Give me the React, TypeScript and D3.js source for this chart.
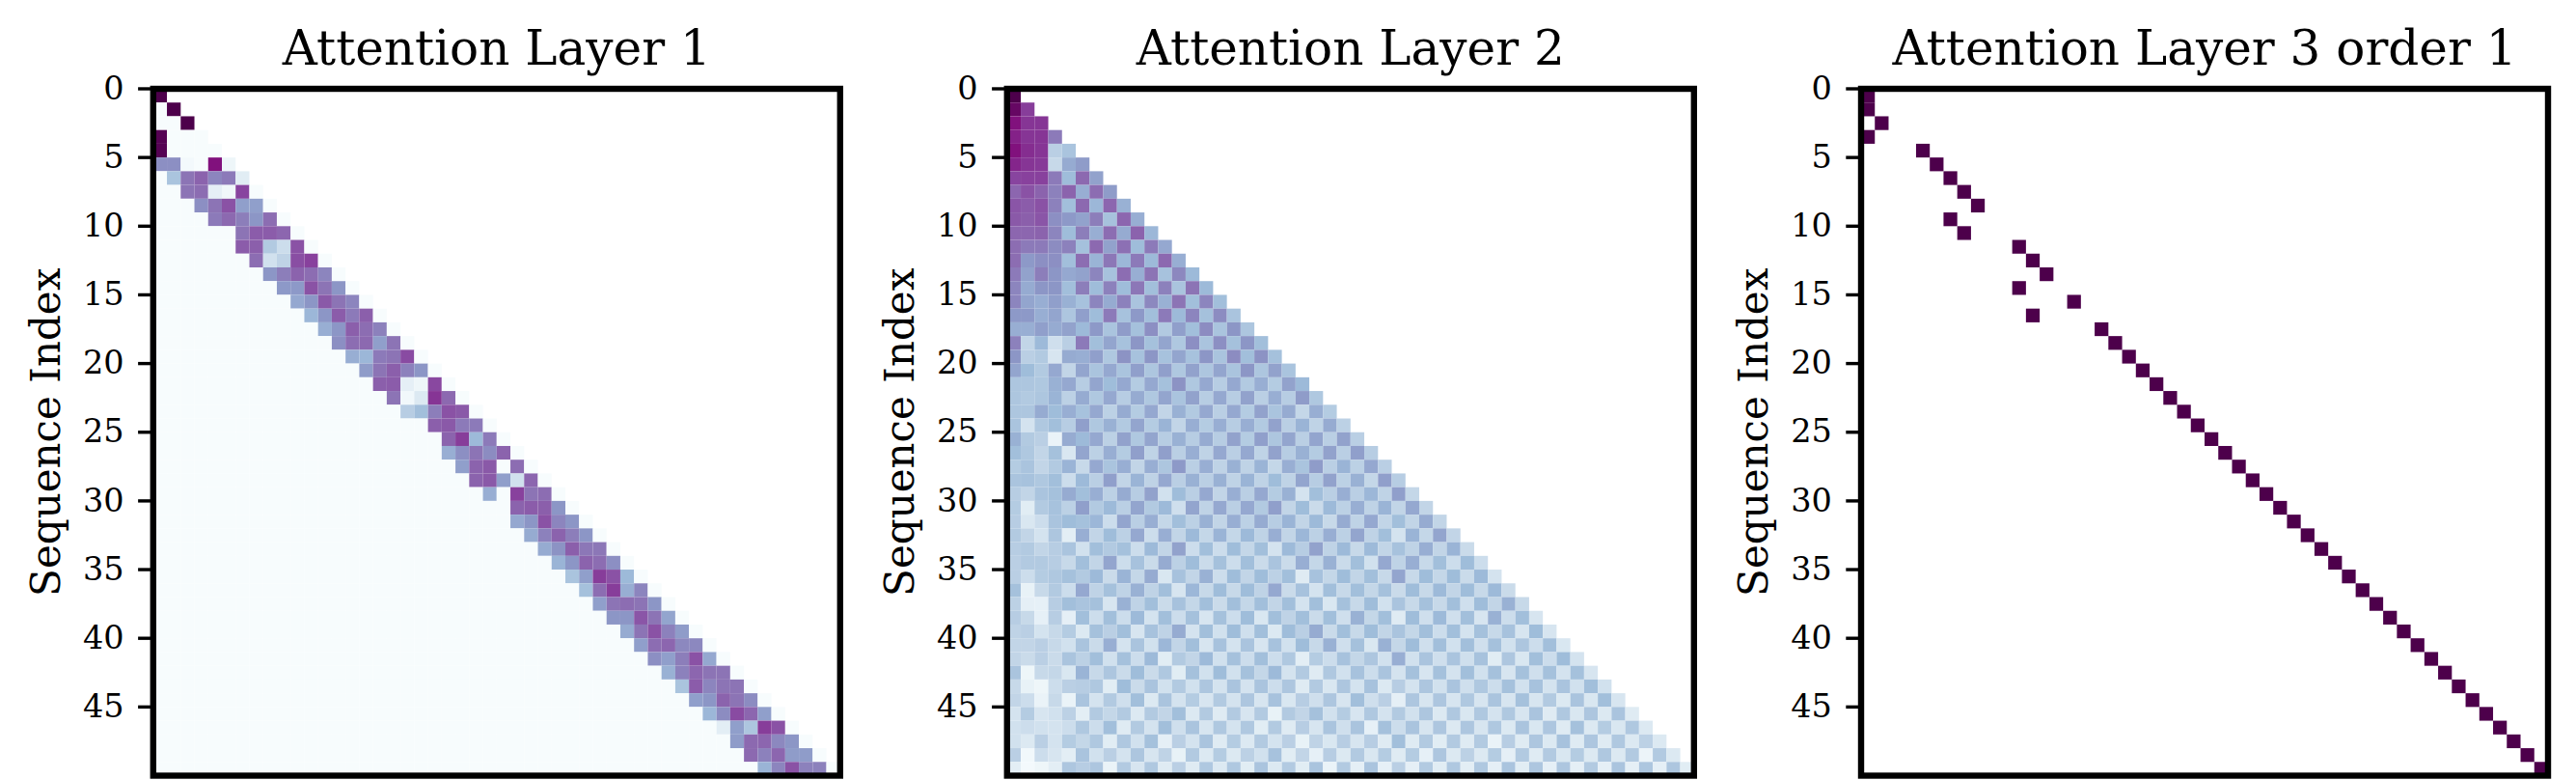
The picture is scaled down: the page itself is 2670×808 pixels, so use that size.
import { useEffect, useRef } from 'react';
import * as d3 from 'd3';

const WIDTH = 2670;
const HEIGHT = 808;
const PANEL_LEFT = [158.8, 1043.8, 1929];
const PANEL_TOP = 92;
const PANEL_W = 712;
const PANEL_H = 711.5;
const N = 50;

const titles = ['Attention Layer 1', 'Attention Layer 2', 'Attention Layer 3 order 1'];
const yLabel = 'Sequence Index';
const yTicks = [0, 5, 10, 15, 20, 25, 30, 35, 40, 45];

// layer 1: first non-zero column of each row, then the band of values (0-100)
const layer1Start = [
  0, 1, 2, 0, 0, 0, 1, 2, 3, 4, 6, 6, 7, 8, 9, 10, 11, 12, 13, 14, 15, 16, 17, 18, 20,
  21, 21, 22, 23, 24, 26, 26, 27, 28, 29, 30, 31, 32, 33, 34, 35, 36, 37, 38, 39, 40, 41, 42, 43, 44,
];
const layer1Band = [
  [100], [100], [100], [98], [98],
  [52, 52, 2, 0, 87, 5],
  [33, 60, 65, 55, 58, 12],
  [60, 62, 10, 4, 74],
  [52, 60, 70, 47, 47],
  [58, 63, 57, 50, 62],
  [60, 67, 67, 64],
  [67, 66, 30, 20, 70],
  [62, 18, 25, 71, 75],
  [50, 57, 65, 62, 55],
  [49, 49, 70, 60, 50],
  [44, 50, 68, 60, 55],
  [39, 50, 67, 58, 66],
  [42, 50, 66, 62, 56],
  [52, 62, 63, 47, 60],
  [42, 39, 58, 60, 72],
  [48, 60, 66, 56, 50],
  [66, 67, 10, 5, 73],
  [60, 3, 14, 78, 63],
  [28, 36, 57, 70, 68],
  [66, 68, 58, 58],
  [65, 76, 38, 58],
  [42, 52, 60, 53, 65],
  [47, 65, 68, 0, 62],
  [65, 68, 47, 18, 64],
  [42, 0, 75, 60, 62],
  [65, 67, 66, 50],
  [44, 50, 70, 55, 50],
  [43, 56, 65, 57, 50],
  [43, 51, 66, 59, 59],
  [40, 50, 65, 62, 52],
  [33, 47, 76, 70, 38],
  [35, 62, 76, 42, 55],
  [47, 60, 62, 60, 50],
  [50, 50, 69, 60, 45],
  [43, 60, 70, 56, 48],
  [47, 62, 64, 54, 54],
  [52, 47, 57, 70, 44],
  [41, 56, 64, 60, 60],
  [33, 67, 55, 60, 60],
  [47, 50, 65, 60, 53],
  [39, 53, 72, 64, 47],
  [11, 47, 32, 76, 70],
  [48, 63, 64, 54, 50],
  [63, 56, 64, 48, 48],
  [40, 55, 70, 56, 56],
];

// layer 2: lower triangle, row i holds columns 0..i (0-100)
const layer2Rows = [
  [100],
  [94, 76],
  [87, 78, 78],
  [83, 78, 78, 58],
  [87, 80, 78, 27, 33],
  [82, 78, 77, 22, 43, 48],
  [74, 75, 75, 58, 37, 63, 46],
  [64, 70, 65, 56, 65, 42, 62, 48],
  [69, 67, 70, 56, 36, 63, 39, 64, 41],
  [68, 66, 69, 52, 49, 46, 57, 34, 64, 42],
  [64, 64, 65, 55, 37, 57, 42, 62, 43, 65, 39],
  [62, 58, 58, 53, 56, 35, 63, 46, 61, 37, 58, 44],
  [62, 49, 52, 52, 36, 62, 40, 59, 39, 58, 38, 63, 42],
  [58, 46, 57, 50, 44, 46, 55, 34, 62, 42, 60, 34, 54, 38],
  [55, 43, 50, 50, 36, 57, 37, 56, 37, 59, 36, 56, 33, 60, 38],
  [55, 45, 42, 47, 41, 34, 55, 43, 56, 33, 54, 41, 60, 36, 55, 36],
  [49, 49, 42, 45, 32, 47, 37, 58, 34, 49, 36, 58, 38, 55, 35, 53, 33],
  [42, 42, 47, 43, 46, 38, 49, 33, 48, 35, 52, 30, 47, 36, 53, 33, 50, 32],
  [56, 24, 38, 19, 27, 58, 36, 45, 34, 50, 35, 45, 31, 52, 33, 52, 35, 50, 36],
  [50, 27, 30, 16, 43, 42, 47, 31, 51, 34, 50, 34, 45, 34, 50, 33, 53, 36, 51, 35],
  [45, 37, 30, 44, 24, 45, 33, 44, 33, 47, 32, 47, 31, 46, 32, 45, 33, 50, 32, 46, 33],
  [32, 32, 31, 41, 44, 28, 45, 37, 44, 29, 44, 35, 51, 31, 44, 28, 44, 30, 42, 29, 46, 38],
  [32, 30, 32, 40, 26, 43, 31, 44, 28, 43, 31, 45, 33, 46, 28, 44, 28, 46, 27, 42, 28, 48, 31],
  [32, 32, 43, 37, 42, 34, 44, 26, 43, 29, 44, 24, 41, 30, 44, 27, 44, 29, 46, 33, 43, 23, 42, 29],
  [33, 17, 31, 36, 28, 47, 31, 41, 30, 45, 29, 40, 24, 42, 29, 42, 28, 42, 30, 46, 27, 40, 25, 43, 26],
  [41, 30, 27, 7, 43, 38, 44, 26, 46, 31, 45, 28, 41, 28, 43, 28, 46, 29, 47, 32, 45, 27, 45, 27, 46, 27],
  [36, 31, 24, 35, 15, 45, 26, 42, 29, 47, 25, 47, 27, 42, 25, 44, 27, 44, 25, 46, 28, 41, 29, 46, 27, 47, 28],
  [29, 33, 24, 30, 40, 22, 44, 33, 42, 24, 42, 32, 49, 27, 42, 25, 41, 25, 40, 23, 42, 33, 48, 27, 40, 26, 44, 27],
  [33, 34, 31, 36, 20, 38, 27, 47, 24, 40, 25, 44, 27, 41, 27, 41, 25, 40, 25, 37, 25, 45, 28, 46, 26, 41, 23, 47, 28],
  [28, 24, 33, 35, 43, 36, 42, 26, 43, 28, 46, 18, 37, 27, 44, 24, 42, 27, 44, 29, 41, 17, 36, 27, 42, 27, 39, 25, 47, 23],
  [29, 12, 30, 34, 26, 47, 30, 38, 27, 45, 30, 38, 19, 45, 25, 44, 27, 44, 30, 47, 24, 37, 21, 38, 26, 42, 25, 40, 24, 44, 24],
  [28, 15, 20, 33, 37, 35, 39, 20, 45, 27, 42, 23, 36, 26, 41, 24, 42, 26, 43, 28, 40, 24, 38, 22, 43, 25, 44, 24, 36, 24, 43, 24],
  [30, 24, 17, 32, 11, 42, 24, 37, 26, 44, 20, 42, 24, 38, 23, 40, 23, 38, 25, 42, 24, 39, 26, 42, 26, 45, 25, 36, 17, 40, 23, 45, 24],
  [28, 30, 24, 28, 33, 18, 36, 30, 35, 20, 38, 24, 46, 20, 36, 20, 37, 23, 36, 17, 38, 28, 46, 25, 38, 22, 38, 24, 34, 25, 42, 24, 40, 21],
  [27, 30, 30, 28, 22, 36, 24, 45, 20, 34, 21, 43, 26, 37, 21, 35, 20, 36, 21, 33, 21, 42, 23, 41, 21, 36, 18, 44, 25, 42, 22, 36, 20, 37, 20],
  [27, 20, 29, 31, 35, 30, 38, 21, 40, 23, 43, 15, 34, 24, 41, 20, 37, 24, 37, 26, 36, 13, 34, 23, 37, 24, 36, 22, 45, 22, 37, 23, 37, 21, 38, 17],
  [35, 8, 22, 30, 20, 44, 25, 35, 25, 41, 25, 36, 16, 39, 22, 37, 22, 37, 25, 44, 21, 34, 17, 36, 22, 36, 23, 35, 21, 37, 22, 38, 24, 37, 22, 38, 21],
  [26, 10, 9, 28, 36, 33, 35, 16, 41, 25, 36, 21, 34, 23, 36, 21, 36, 23, 36, 24, 36, 17, 36, 15, 35, 22, 37, 18, 33, 22, 35, 22, 36, 19, 37, 24, 41, 22],
  [28, 22, 9, 28, 10, 36, 20, 36, 20, 38, 17, 36, 20, 35, 16, 35, 20, 37, 15, 36, 25, 36, 21, 36, 19, 41, 23, 36, 13, 37, 19, 38, 19, 36, 16, 41, 20, 36, 16],
  [25, 27, 17, 22, 29, 14, 35, 27, 36, 16, 34, 25, 43, 17, 36, 18, 37, 19, 36, 14, 37, 27, 43, 21, 36, 22, 37, 24, 33, 23, 36, 20, 36, 17, 35, 22, 34, 16, 37, 16],
  [24, 24, 27, 22, 18, 33, 21, 42, 17, 33, 18, 39, 24, 36, 16, 34, 17, 33, 16, 34, 18, 37, 22, 41, 19, 35, 15, 41, 23, 37, 19, 36, 18, 36, 19, 35, 18, 32, 20, 36, 15],
  [24, 21, 27, 21, 33, 26, 36, 18, 35, 20, 38, 12, 30, 24, 38, 18, 35, 20, 36, 20, 31, 11, 29, 20, 34, 23, 32, 18, 42, 18, 33, 19, 33, 19, 34, 12, 32, 15, 36, 20, 37, 17],
  [33, 5, 22, 23, 15, 40, 22, 32, 21, 37, 21, 31, 12, 35, 18, 37, 18, 35, 23, 38, 17, 30, 13, 31, 18, 34, 20, 33, 17, 35, 16, 35, 17, 36, 18, 35, 16, 35, 19, 35, 17, 35, 16],
  [22, 8, 5, 20, 27, 28, 31, 12, 37, 21, 33, 18, 30, 18, 32, 17, 33, 17, 33, 20, 32, 13, 30, 15, 32, 17, 34, 14, 28, 17, 32, 18, 33, 19, 31, 20, 35, 18, 34, 17, 33, 18, 36, 18],
  [24, 20, 7, 22, 7, 33, 17, 30, 19, 36, 14, 33, 17, 29, 16, 30, 17, 32, 16, 34, 15, 28, 19, 32, 16, 36, 19, 27, 10, 32, 16, 32, 16, 31, 16, 33, 16, 35, 16, 30, 14, 33, 15, 36, 16],
  [17, 29, 16, 18, 26, 11, 30, 23, 30, 14, 30, 24, 36, 14, 30, 13, 30, 16, 30, 8, 30, 24, 35, 18, 29, 16, 31, 17, 30, 18, 32, 14, 31, 15, 31, 17, 31, 16, 33, 13, 31, 15, 32, 14, 33, 13],
  [18, 20, 18, 17, 20, 31, 20, 36, 13, 30, 17, 36, 19, 33, 16, 31, 17, 31, 12, 30, 13, 28, 16, 33, 19, 33, 9, 35, 20, 33, 16, 32, 14, 32, 16, 31, 14, 33, 15, 32, 13, 35, 14, 29, 15, 31, 14],
  [18, 14, 27, 17, 29, 23, 31, 12, 31, 18, 35, 10, 27, 17, 33, 13, 29, 14, 30, 17, 27, 8, 25, 15, 28, 16, 28, 13, 36, 13, 30, 12, 30, 13, 30, 7, 28, 13, 32, 14, 34, 13, 32, 13, 31, 14, 26, 14],
  [27, 3, 20, 16, 11, 33, 18, 27, 17, 32, 16, 25, 8, 30, 14, 29, 14, 26, 18, 34, 12, 24, 9, 28, 14, 30, 15, 29, 13, 29, 9, 32, 14, 26, 14, 29, 10, 30, 13, 30, 15, 29, 14, 31, 14, 30, 6, 30, 14],
  [11, 2, 5, 11, 32, 28, 32, 7, 30, 16, 31, 13, 27, 13, 31, 14, 31, 12, 33, 14, 30, 12, 33, 7, 30, 10, 33, 9, 27, 10, 30, 12, 31, 11, 31, 10, 33, 12, 32, 10, 32, 10, 30, 10, 33, 10, 32, 10, 32, 12],
];

// layer 3: the single attended column of each row
const layer3Cols = [
  0, 0, 1, 0, 4, 5, 6, 7, 8, 6, 7, 11, 12, 13, 11, 15, 12, 17, 18, 19, 20, 21, 22, 23, 24,
  25, 26, 27, 28, 29, 30, 31, 32, 33, 34, 35, 36, 37, 38, 39, 40, 41, 42, 43, 44, 45, 46, 47, 48, 49,
];

interface Cell {
  row: number;
  col: number;
  value: number;
}

const layer1Cells: Cell[] = layer1Band.flatMap((band, row) =>
  d3.range(row + 1).map((col) => ({
    row,
    col,
    value: band[col - layer1Start[row]] ?? 0,
  }))
);
const layer2Cells: Cell[] = layer2Rows.flatMap((values, row) =>
  values.map((value, col) => ({ row, col, value }))
);
const layer3Cells: Cell[] = layer3Cols.map((col, row) => ({ row, col, value: 100 }));
const panels = [layer1Cells, layer2Cells, layer3Cells];

const color = d3.scaleSequential(d3.piecewise(d3.interpolateRgb, d3.schemeBuPu[9])).domain([0, 100]);

export default function App() {
  const svgRef = useRef<SVGSVGElement>(null);

  useEffect(() => {
    const svg = d3.select(svgRef.current);
    svg.selectAll('*').remove();
    svg.append('rect').attr('width', WIDTH).attr('height', HEIGHT).attr('fill', '#fff');

    panels.forEach((cells, i) => {
      const left = PANEL_LEFT[i];
      const x = d3.scaleLinear().domain([0, N]).range([left, left + PANEL_W]);
      const y = d3.scaleLinear().domain([0, N]).range([PANEL_TOP, PANEL_TOP + PANEL_H]);
      const g = svg.append('g');

      g.selectAll('rect.cell')
        .data(cells)
        .enter()
        .append('rect')
        .attr('class', 'cell')
        .attr('x', (d) => x(d.col))
        .attr('y', (d) => y(d.row))
        .attr('width', x(1) - x(0))
        .attr('height', y(1) - y(0))
        .attr('fill', (d) => color(d.value));

      g.append('rect')
        .attr('x', x(0))
        .attr('y', y(0))
        .attr('width', PANEL_W)
        .attr('height', PANEL_H)
        .attr('fill', 'none')
        .attr('stroke', '#000')
        .attr('stroke-width', 6.4);

      const axis = g
        .append('g')
        .attr('transform', `translate(${x(0)},0)`)
        .call(d3.axisLeft(y).tickValues(yTicks).tickSize(15.7).tickPadding(14.5).offset(0));
      axis.select('.domain').remove();
      axis.selectAll('.tick line').attr('stroke', '#000').attr('stroke-width', 3.4);
      axis
        .selectAll('.tick text')
        .attr('fill', '#000')
        .attr('font-family', '"DejaVu Serif"')
        .attr('font-size', 33.5);

      g.append('text')
        .attr('x', x(0) + PANEL_W / 2)
        .attr('y', 66.7)
        .attr('text-anchor', 'middle')
        .attr('font-family', '"DejaVu Serif"')
        .attr('font-size', 50)
        .attr('fill', '#000')
        .text(titles[i]);

      g.append('text')
        .attr('transform', `translate(${x(0) - 97},${PANEL_TOP + PANEL_H / 2}) rotate(-90)`)
        .attr('text-anchor', 'middle')
        .attr('font-family', '"DejaVu Serif"')
        .attr('font-size', 42)
        .attr('fill', '#000')
        .text(yLabel);
    });
  }, []);

  return (
    <svg
      ref={svgRef}
      width={WIDTH}
      height={HEIGHT}
      style={{ position: 'absolute', left: 0, top: 0, display: 'block' }}
    />
  );
}
